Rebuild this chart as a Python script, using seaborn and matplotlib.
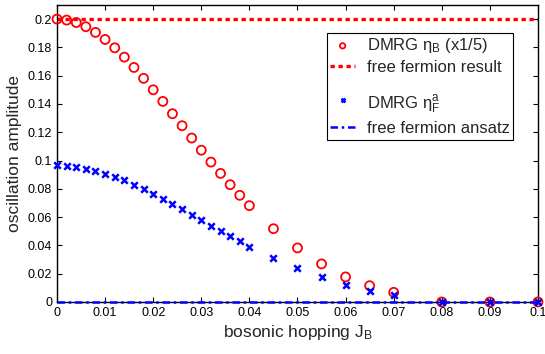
import numpy as np
import pandas as pd
import seaborn as sns
import matplotlib
matplotlib.use("Agg")
import matplotlib.pyplot as plt
from matplotlib.ticker import FormatStrFormatter

# hopping values where DMRG was run
hopping = [0, 0.002, 0.004, 0.006, 0.008, 0.010, 0.012, 0.014, 0.016, 0.018,
           0.020, 0.022, 0.024, 0.026, 0.028, 0.030, 0.032, 0.034, 0.036, 0.038,
           0.040, 0.045, 0.050, 0.055, 0.060, 0.065, 0.070, 0.080, 0.090, 0.100]
# eta_B scaled by 1/5
eta_b = [0.2000, 0.1993, 0.1976, 0.1946, 0.1906, 0.1856, 0.1797, 0.1731, 0.1658, 0.1581,
         0.1500, 0.1418, 0.1331, 0.1246, 0.1159, 0.1073, 0.0989, 0.0909, 0.0829, 0.0754,
         0.0681, 0.0518, 0.0382, 0.0269, 0.0177, 0.0115, 0.0068, 0.0, 0.0, 0.0]
eta_f = [0.0968, 0.0963, 0.0954, 0.0942, 0.0926, 0.0907, 0.0886, 0.0860, 0.0829, 0.0799,
         0.0763, 0.0728, 0.0693, 0.0655, 0.0615, 0.0577, 0.0539, 0.0502, 0.0464, 0.0429,
         0.0391, 0.0311, 0.0240, 0.0175, 0.0118, 0.0078, 0.0047, 0.0, 0.0, 0.0]

ff_x = [0.0, 0.1]
ff_result = [0.2, 0.2]
ff_ansatz = [0.0, 0.0]

x_ticks = [0, 0.01, 0.02, 0.03, 0.04, 0.05, 0.06, 0.07, 0.08, 0.09, 0.1]
y_ticks = [0, 0.02, 0.04, 0.06, 0.08, 0.1, 0.12, 0.14, 0.16, 0.18, 0.2]

df = pd.DataFrame({"J": hopping, "etaB": eta_b, "etaF": eta_f})

sns.set_style("white")
plt.rcParams["font.family"] = ["Liberation Sans", "DejaVu Sans"]
plt.rcParams["mathtext.fontset"] = "custom"
plt.rcParams["mathtext.rm"] = "Liberation Sans"
plt.rcParams["mathtext.it"] = "Liberation Sans:italic"

fig = plt.figure(figsize=(5.45, 3.54), dpi=100)
ax = fig.add_axes([0.1046, 0.147, 0.8825, 0.839])

sns.scatterplot(data=df, x="J", y="etaB", ax=ax, marker="o", s=42,
                facecolor="none", edgecolor="red", linewidth=1.3,
                label=r"DMRG η$_{\rm B}$ (x1/5)", clip_on=False, zorder=3)
sns.lineplot(x=ff_x, y=ff_result, ax=ax, color="red", lw=2.4,
             linestyle=(0, (1.3, 1.1)), label="free fermion result")
sns.scatterplot(data=df, x="J", y="etaF", ax=ax, marker="x", s=22,
                color="blue", linewidth=1.8,
                label="\n" + r"DMRG η$_{\rm F}^{\rm a}$", clip_on=False, zorder=4)
sns.lineplot(x=ff_x, y=ff_ansatz, ax=ax, color="blue", lw=1.8,
             linestyle=(0, (3, 1.5, 1, 1.5)), label="free fermion ansatz",
             clip_on=False, zorder=5)

ax.set_xlim(0, 0.1)
ax.set_ylim(0, 0.21)
ax.set_xticks(x_ticks)
ax.set_yticks(y_ticks)
ax.xaxis.set_major_formatter(FormatStrFormatter("%g"))
ax.yaxis.set_major_formatter(FormatStrFormatter("%g"))
ax.tick_params(direction="in", length=3.5, width=0.8, labelsize=9,
               top=True, right=True, bottom=True, left=True, colors="black")
for sp in ax.spines.values():
    sp.set_color("black")
    sp.set_linewidth(1.0)

ax.set_xlabel(r"bosonic hopping J$_{\rm B}$", fontsize=12.5, labelpad=3)
ax.set_ylabel("oscillation amplitude", fontsize=12.5, labelpad=4)

leg = ax.legend(loc="upper right", bbox_to_anchor=(0.948, 0.906), borderaxespad=0,
                fontsize=12, frameon=True, fancybox=False, framealpha=1,
                edgecolor="black", handlelength=1.5, handletextpad=0.7,
                borderpad=0.2, labelspacing=0.3, markerscale=0.6)
leg.get_frame().set_linewidth(0.8)
leg.get_texts()[2].set_linespacing(0.9)

fig.savefig("out.png", dpi=100)
